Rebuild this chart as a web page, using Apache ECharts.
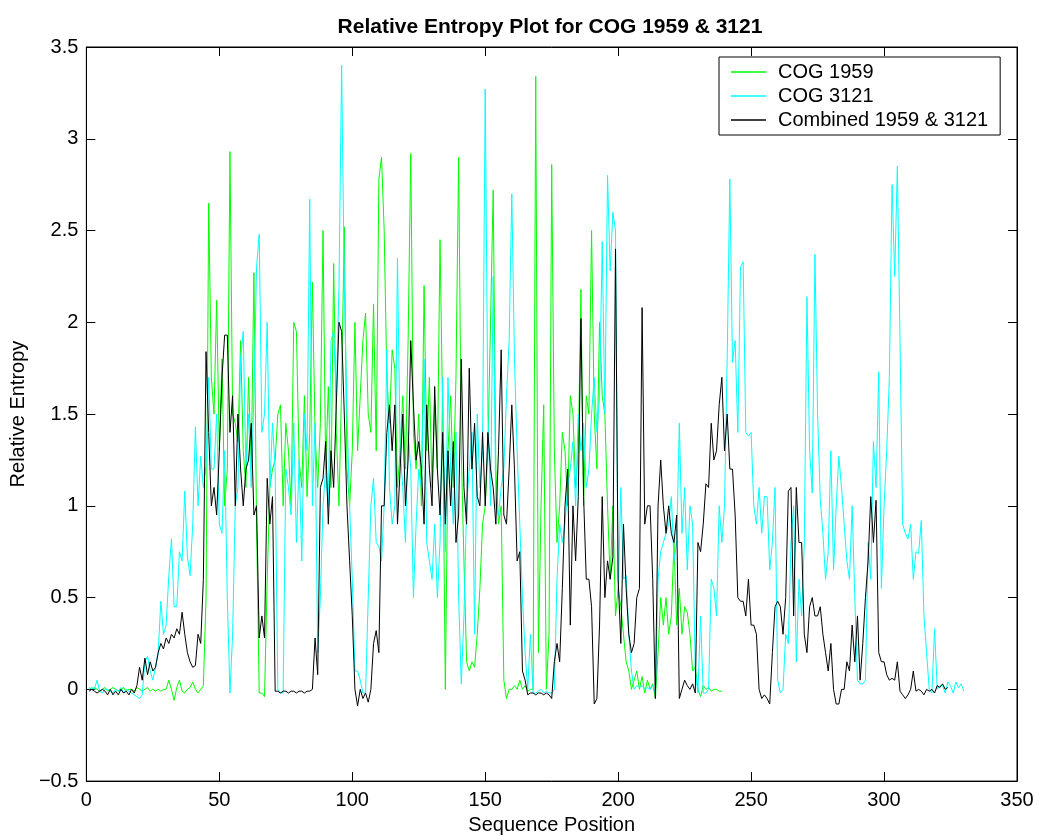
<!DOCTYPE html>
<html>
<head>
<meta charset="utf-8">
<title>Relative Entropy Plot for COG 1959 & 3121</title>
<script src="https://cdn.jsdelivr.net/npm/echarts@6/dist/echarts.min.js"></script>
<style>
    html, body { margin: 0; padding: 0; background: #fff; }
    #chart { width: 1038px; height: 840px; }
</style>
</head>
<body>
<div id="chart"></div>
<script>
/* datos: un valor por posicion, empezando en 1 */
const cog1959 = [
    0.01,0.0,0.01,0.0,-0.01,0.0,0.01,-0.01,0.0,0.01,
    0.0,-0.01,0.0,0.01,-0.01,0.0,0.0,-0.01,0.01,0.0,
    -0.01,0.0,0.01,-0.01,0.0,-0.01,0.0,-0.01,0.0,0.0,
    0.05,0.0,-0.06,0.01,0.05,-0.01,-0.02,0.0,0.01,0.04,
    0.0,-0.02,0.0,0.02,
    0.5,2.65,1.7,1.5,2.12,1.3,1.8,1.0,1.2,2.93,1.5,1.45,1.35,1.9,1.3,1.1,1.7,1.2,2.27,0.9,
    -0.02,-0.02,-0.04,0.6,1.1,1.2,1.25,1.5,1.55,1.0,1.45,1.3,1.0,2.0,1.95,1.25,1.1,1.6,1.05,1.4,
    2.22,1.4,1.1,1.45,2.5,1.2,1.65,1.1,2.32,1.4,1.0,1.65,2.52,1.2,1.0,1.3,
    2.0,1.3,1.6,1.9,2.05,1.5,1.4,2.1,1.3,2.78,2.9,2.5,1.7,1.45,1.85,1.75,1.1,1.3,1.6,1.2,
    1.9,2.92,1.4,1.2,1.5,1.0,2.2,1.3,1.7,1.1,1.55,1.2,2.45,1.5,0.0,1.3,1.6,1.1,1.7,2.9,
    1.3,0.7,0.15,0.1,0.15,0.12,0.3,0.55,0.9,1.0,1.3,2.0,2.72,1.2,0.9,1.0,0.05,-0.05,0.0,0.0,
    0.02,0.0,0.05,0.0,0.02,-0.01,0.0,0.0,3.34,0.2,1.0,1.55,0.0,0.3,2.86,1.3,0.8,1.0,1.4,1.3,
    1.0,1.6,1.5,1.1,1.3,2.18,1.0,1.6,1.5,2.5,1.5,1.2,2.0,1.6,1.5,1.0,0.6,1.0,0.4,0.55,
    0.45,0.3,0.15,0.1,0.0,0.05,0.1,0.0,0.07,-0.02,0.05,0.0,0.03,-0.05,0.2,0.5,0.35,0.5,0.3,0.4,
    0.8,0.35,0.55,0.3,0.45,0.42,0.3,0.1,0.12,0.0,-0.04,0.02,0.0,0.01,-0.01,0.0,0.0,-0.01,-0.01
];

const cog3121 = [
    0.0,0.01,0.0,0.05,-0.01,-0.02,0.0,0.0,-0.01,-0.02,0.0,-0.01,0.01,-0.02,0.0,-0.01,-0.02,-0.03,-0.04,-0.05,-0.03,
    0.15,0.18,0.1,0.05,0.12,0.2,0.48,0.3,0.35,0.62,0.82,0.45,0.45,0.75,0.7,1.08,0.72,0.62,0.9,1.43,
    1.0,1.27,1.1,1.22,1.7,1.2,1.2,1.5,0.9,
    0.85,1.3,0.5,-0.02,0.3,1.0,1.1,1.8,1.95,1.2,1.5,1.1,1.6,2.3,2.48,1.4,1.5,2.0,1.1,1.45,
    1.2,0.0,-0.02,-0.02,1.2,1.1,0.95,1.45,0.8,1.25,0.7,1.5,1.3,2.67,1.0,1.45,0.2,0.5,1.0,1.2,
    1.0,1.9,1.95,1.6,2.2,3.4,2.2,1.5,1.0,0.6,
    0.1,0.1,0.05,-0.02,-0.02,0.5,1.0,1.15,0.8,0.78,0.7,1.0,1.85,1.1,0.9,1.0,2.35,1.3,1.1,0.8,
    1.4,1.2,0.5,0.9,1.2,1.1,1.8,0.8,0.7,0.6,0.9,0.5,0.8,1.7,0.75,1.7,1.2,0.9,1.4,0.5,
    0.03,0.4,1.0,1.2,1.4,0.3,1.5,1.1,1.3,3.27,
    1.5,1.0,2.25,1.0,0.95,1.1,1.2,1.6,1.9,2.7,1.8,1.3,0.9,0.5,0.2,0.0,0.3,-0.02,-0.02,-0.01,
    0.0,-0.02,-0.01,-0.02,-0.02,0.0,0.6,0.9,0.8,0.9,1.1,1.2,1.35,1.0,1.5,1.3,1.45,1.1,1.2,1.5,
    1.7,1.4,1.6,2.44,1.5,2.8,2.28,2.6,2.5,0.5,
    1.1,0.6,0.62,0.3,0.1,0.0,0.02,0.01,0.02,0.0,0.01,0.0,0.02,-0.02,0.6,0.75,0.8,0.85,0.9,1.05,
    0.7,0.8,1.45,0.85,1.1,0.65,1.0,0.9,0.1,-0.02,0.4,-0.02,-0.02,0.0,0.6,0.55,0.4,1.0,0.8,1.0,
    1.8,2.78,1.78,1.9,1.4,2.3,2.33,1.4,1.38,1.4,
    1.0,0.9,1.1,0.85,1.05,1.05,0.65,0.8,1.1,0.05,-0.02,0.0,0.3,0.25,0.8,1.0,0.15,0.6,0.4,0.8,
    2.14,1.3,1.07,2.37,1.5,1.04,0.85,0.6,0.75,1.3,0.65,1.0,1.27,1.1,0.9,0.7,0.6,1.0,0.5,0.05,
    0.03,0.03,0.05,0.8,0.6,1.35,1.1,1.73,0.55,1.0,
    1.3,1.7,2.75,2.25,2.85,1.9,0.9,0.85,0.82,0.9,0.6,0.75,0.74,0.92,0.4,0.2,0.0,-0.02,0.33,0.0,
    0.02,0.02,-0.02,0.04,0.02,-0.02,0.04,0.01,0.03,-0.01
];

const combined = [
    -0.01,0.0,-0.01,-0.02,-0.01,0.0,-0.01,-0.03,0.0,-0.03,-0.01,-0.03,0.0,-0.02,-0.01,-0.03,0.0,-0.02,0.02,
    0.12,0.05,0.17,0.08,0.15,0.1,0.12,0.2,0.25,0.22,0.28,0.25,0.3,0.28,0.33,0.3,0.42,0.3,0.2,0.15,
    0.12,0.13,0.3,0.25,0.6,
    1.84,1.4,1.0,1.1,0.95,1.3,1.7,1.93,1.93,1.4,1.6,1.0,1.5,1.2,1.0,1.2,1.25,1.45,0.95,1.0,
    0.28,0.4,0.28,1.15,0.9,1.05,-0.01,
    -0.01,-0.02,-0.01,-0.01,-0.02,-0.01,-0.01,-0.02,-0.01,-0.01,-0.02,-0.01,-0.01,0.0,
    0.28,0.08,1.1,1.15,1.35,0.9,1.3,1.1,1.55,2.0,1.95,1.5,1.0,0.7,0.4,
    0.0,-0.09,0.0,-0.05,-0.02,-0.07,0.0,0.25,0.32,0.2,
    1.0,1.0,1.4,1.55,1.3,1.55,0.9,1.2,1.5,1.0,1.25,1.9,1.55,1.25,1.35,1.2,0.9,1.55,1.2,1.0,
    1.65,1.2,0.95,1.4,0.9,1.3,1.0,1.35,0.8,0.95,1.8,1.1,0.9,1.75,1.2,1.45,1.05,1.0,1.4,1.0,
    1.4,1.2,1.1,0.9,1.3,1.85,0.95,0.9,1.2,1.55,1.2,0.7,0.75,0.1,0.05,-0.03,-0.02,-0.02,-0.03,-0.02,
    -0.02,-0.03,-0.02,-0.03,-0.05,0.15,
    0.25,0.15,0.55,1.0,1.2,0.35,1.0,0.7,1.05,2.02,1.05,0.6,0.6,0.45,-0.08,-0.05,0.35,1.05,0.5,0.7,
    0.6,0.72,2.4,0.6,
    0.25,0.9,0.55,0.3,0.2,0.25,0.5,0.55,2.08,0.9,1.0,1.0,0.6,-0.05,1.0,1.25,1.0,0.85,1.0,0.85,
    0.8,0.95,-0.05,0.0,0.05,0.02,0.0,0.03,-0.02,0.8,
    0.75,0.9,1.12,1.1,1.45,1.25,1.3,1.55,1.7,1.3,1.5,1.2,1.2,0.95,0.5,0.48,0.48,0.4,0.6,0.35,
    0.35,0.3,0.0,
    -0.05,-0.03,-0.05,-0.08,0.2,0.45,0.48,0.45,0.3,0.5,1.08,1.1,0.4,1.1,0.8,0.8,0.3,0.2,0.45,0.5,
    0.4,0.4,0.45,0.3,0.2,0.1,0.25,0.0,-0.08,-0.08,0.0,0.0,0.15,0.1,0.35,0.15,0.4,0.05,0.25,0.5,
    0.7,1.05,0.8,1.03,0.2,0.15,0.15,
    0.08,0.05,0.06,0.05,0.15,-0.01,-0.03,-0.05,-0.03,0.0,0.1,-0.01,0.0,-0.01,-0.03,0.0,-0.01,0.0,-0.02,0.02,
    0.01,0.03,0.0,0.01
];

const seriesNames = ['COG 1959', 'COG 3121', 'Combined 1959 & 3121'];
const seriesColors = ['#00ff00', '#00ffff', '#000000'];

const xMin = 0, xMax = 350, xStep = 50;
const yMin = -0.5, yMax = 3.5, yStep = 0.5;

const FONT = '"Liberation Sans", Arial, Helvetica, sans-serif';

/* pares [posicion, valor] */
function toPairs(values) {
    return values.map((v, i) => [i + 1, v]);
}

function formatY(v) {
    return String(v).replace('-', '\u2212');
}

window.renderEntropyChart = function () {
    const el = document.getElementById('chart');
    if (!el) return;

    const chart = echarts.init(el, null, { renderer: 'canvas' });

    const tickStyle = { show: true, inside: true, length: 9, lineStyle: { color: '#000', width: 1 } };
    const lineStyle = { show: true, onZero: false, lineStyle: { color: '#000', width: 1 } };
    const labelStyle = { color: '#000', fontSize: 20, fontFamily: FONT };

    const allData = [cog1959, cog3121, combined];

    const option = {
        backgroundColor: '#fff',
        animation: false,
        title: {
            text: 'Relative Entropy Plot for COG 1959 & 3121',
            left: 545,
            top: 12,
            textAlign: 'center',
            textStyle: { fontSize: 21, fontWeight: 'bold', color: '#000', fontFamily: FONT }
        },
        grid: {
            left: 84, right: 21, top: 47, bottom: 56,
            show: true, borderColor: '#000', borderWidth: 1, backgroundColor: '#fff'
        },
        legend: {
            orient: 'vertical',
            left: 719,
            top: 57,
            padding: [5, 12, 5, 12],
            itemGap: 4,
            itemWidth: 35,
            itemHeight: 1.5,
            icon: 'rect',
            borderColor: '#000',
            borderWidth: 1,
            backgroundColor: '#fff',
            data: seriesNames,
            textStyle: { fontSize: 20, lineHeight: 20, color: '#000', fontFamily: FONT, padding: [0, 0, 0, 7] }
        },
        xAxis: [{
            type: 'value', min: xMin, max: xMax, interval: xStep,
            name: 'Sequence Position', nameLocation: 'middle', nameGap: 33,
            nameTextStyle: labelStyle,
            axisLine: lineStyle, axisTick: tickStyle,
            axisLabel: Object.assign({ margin: 9 }, labelStyle),
            splitLine: { show: false }
        }, {
            type: 'value', min: xMin, max: xMax, interval: xStep, position: 'top',
            axisLine: lineStyle, axisTick: tickStyle,
            axisLabel: { show: false }, splitLine: { show: false }
        }],
        yAxis: [{
            type: 'value', min: yMin, max: yMax, interval: yStep,
            name: 'Relative Entropy', nameLocation: 'middle', nameGap: 51,
            nameTextStyle: labelStyle,
            axisLine: lineStyle, axisTick: tickStyle,
            axisLabel: Object.assign({ margin: 8, formatter: formatY }, labelStyle),
            splitLine: { show: false }
        }, {
            type: 'value', min: yMin, max: yMax, interval: yStep, position: 'right',
            axisLine: lineStyle, axisTick: tickStyle,
            axisLabel: { show: false }, splitLine: { show: false }
        }],
        series: allData.map((values, i) => ({
            name: seriesNames[i],
            type: 'line',
            data: toPairs(values),
            symbol: 'none',
            showSymbol: false,
            clip: true,
            lineStyle: { color: seriesColors[i], width: 1 },
            itemStyle: { color: seriesColors[i] },
            z: 2 + i
        }))
    };

    chart.setOption(option);
    chart.resize();
};

window.renderEntropyChart();
</script>
</body>
</html>
